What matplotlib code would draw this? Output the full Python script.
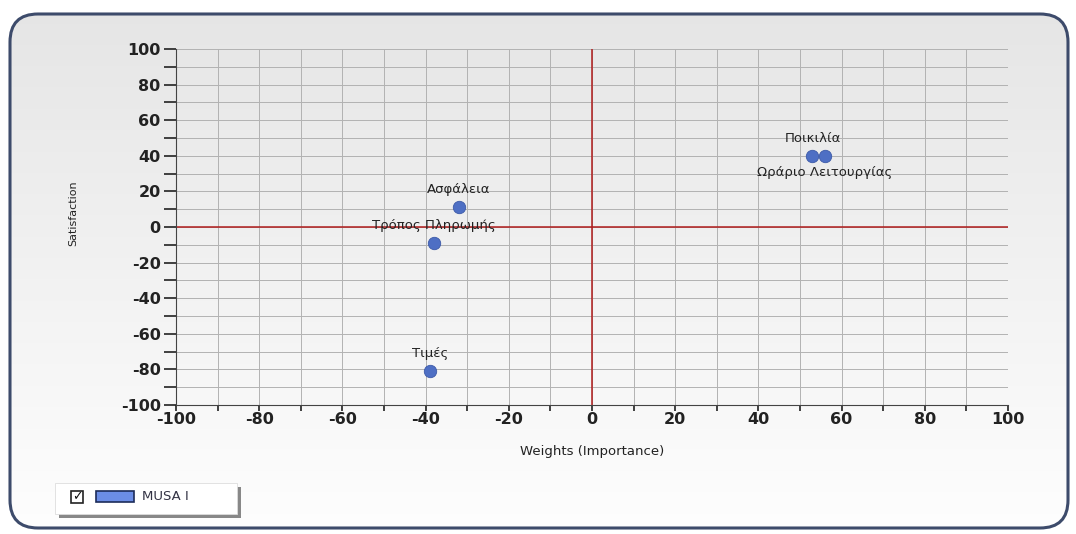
import numpy as np
import matplotlib
matplotlib.use("Agg")
import matplotlib.pyplot as plt
from matplotlib.patches import FancyBboxPatch, Rectangle

# data
labels = ["Ποικιλία", "Ωράριο Λειτουργίας", "Ασφάλεια", "Τρόπος Πληρωμής", "Τιμές"]
weights = [53, 56, -32, -38, -39]
satisfaction = [40, 40, 11, -9, -81]
label_pos = ["above", "below", "above", "above", "above"]
series_name = "MUSA I"

plt.rcParams['font.family'] = ['DejaVu Sans']
plt.rcParams['axes.unicode_minus'] = False

fig = plt.figure(figsize=(10.76, 5.34), dpi=100)
fig.patch.set_facecolor("white")

# background panel with rounded border and light gradient
bg = fig.add_axes([0, 0, 1, 1], zorder=-10)
bg.set_xlim(0, 1076)
bg.set_ylim(534, 0)
bg.axis("off")
grad = np.linspace(0.90, 0.995, 256).reshape(-1, 1)
img = bg.imshow(np.dstack([grad, grad, grad]), extent=[8, 1070, 530, 12], aspect="auto", zorder=0)
panel = FancyBboxPatch((10, 14), 1058, 514, boxstyle="round,pad=0,rounding_size=28",
                       facecolor="none", edgecolor="#3d4b6b", linewidth=2.2, zorder=2)
bg.add_patch(panel)
img.set_clip_path(panel)

ax = fig.add_axes([176 / 1076, 1 - 405 / 534, 832 / 1076, 356 / 534])
ax.set_facecolor("none")
ax.set_xlim(-100, 100)
ax.set_ylim(-100, 100)
ax.set_xticks(np.arange(-100, 101, 20))
ax.set_xticks(np.arange(-90, 100, 20), minor=True)
ax.set_yticks(np.arange(-100, 101, 20))
ax.set_yticks(np.arange(-90, 100, 20), minor=True)
ax.grid(True, which="both", color="#b2b2b2", linewidth=0.7)
ax.set_axisbelow(True)
for s in ["top", "right"]:
    ax.spines[s].set_visible(False)
for s in ["left", "bottom"]:
    ax.spines[s].set_color("#444444")
    ax.spines[s].set_linewidth(0.8)
ax.tick_params(axis="y", which="both", length=9, width=1.2, color="#222222", labelsize=11.5, pad=2)
ax.tick_params(axis="x", which="both", length=4, width=1.2, color="#222222", labelsize=11.5, pad=1)
for t in ax.get_xticklabels() + ax.get_yticklabels():
    t.set_fontweight("bold")
    t.set_color("#222222")

ax.axhline(0, color="#b01c1c", linewidth=1.1)
ax.axvline(0, color="#b01c1c", linewidth=1.1)

ax.scatter(weights, satisfaction, s=80, color="#4e6fc4", edgecolor="#3c5aa8", linewidth=0.6, zorder=5)
for lab, x, y, pos in zip(labels, weights, satisfaction, label_pos):
    off = 8 if pos == "above" else -7
    ax.annotate(lab, (x, y), xytext=(0, off), textcoords="offset points",
                ha="center", va="bottom" if pos == "above" else "top",
                fontsize=9.5, color="#222222", zorder=6)

ax.set_xlabel("Weights (Importance)", fontsize=9.5, color="#222222")
ax.xaxis.set_label_coords(0.5, -0.112)
ax.set_ylabel("Satisfaction", fontsize=8, color="#222222")
ax.yaxis.set_label_coords(-0.117, 0.54)

# legend box
shadow = Rectangle((59, 487), 182, 31, facecolor="#888888", edgecolor="none", zorder=3)
bg.add_patch(shadow)
box = Rectangle((55, 483), 182, 31, facecolor="white", edgecolor="#dddddd", linewidth=0.6, zorder=4)
bg.add_patch(box)
bg.add_patch(Rectangle((71, 491), 12, 12, facecolor="white", edgecolor="#222222", linewidth=1.2, zorder=5))
bg.text(77, 497, "✓", ha="center", va="center", fontsize=9, fontweight="bold", color="#111111", zorder=6)
bg.add_patch(Rectangle((96, 491), 38, 11, facecolor="#6b8de6", edgecolor="#1c2c5a", linewidth=1.2, zorder=5))
bg.text(142, 497, series_name, ha="left", va="center", fontsize=9.5, color="#333344", zorder=6)

fig.savefig("out.png", dpi=100)
